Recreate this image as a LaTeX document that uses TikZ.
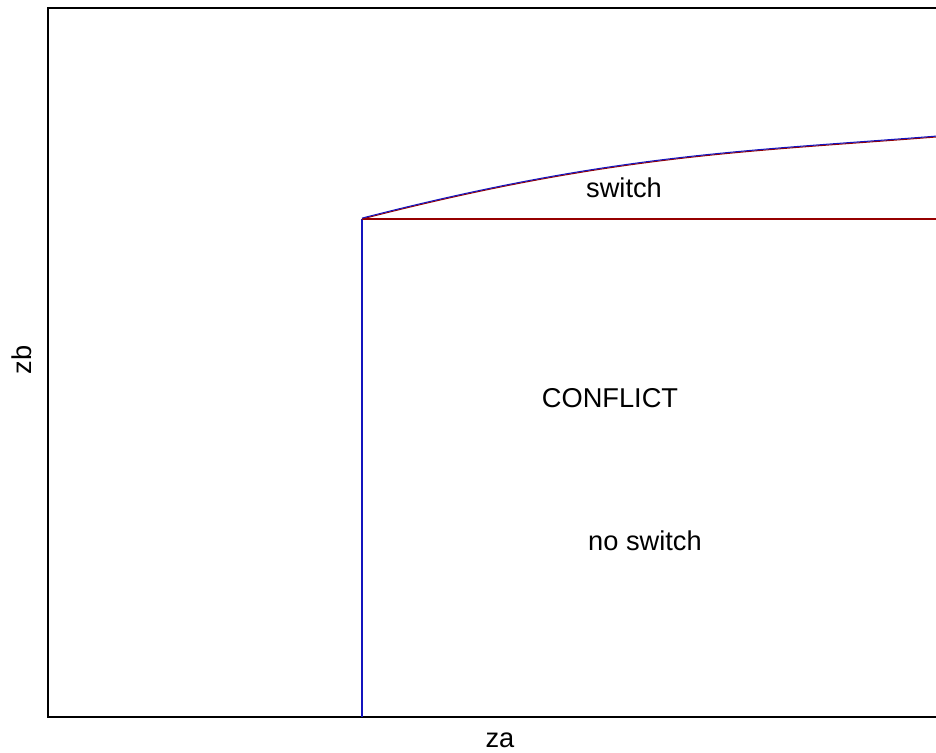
\documentclass[tikz,border=0pt]{standalone}
\usepackage{fontspec}
\setmainfont{Liberation Sans}
\definecolor{lineblue}{RGB}{20,20,190}
\definecolor{linered}{RGB}{150,0,0}
\begin{document}
\begin{tikzpicture}[x=0.02cm,y=-0.02cm]
    \tikzstyle{every node}=[font=\fontsize{15.5}{18}\selectfont]
    \tikzstyle{frame}=[line width=1.1pt,black]
    \tikzstyle{redline}=[line width=0.6pt,linered]
    \tikzstyle{blueline}=[line width=0.6pt,lineblue]
    \useasboundingbox (0,0) rectangle (936,753);

    % Axes frame (open to the right)
    \draw [frame] (936,8) -- (48,8) -- (48,717) -- (936,717);

    % Corner points
    \coordinate (kink) at (362,219);
    \coordinate (base) at (362,717);
    \coordinate (right) at (936,219);
    \coordinate (top) at (936,137);

    % Boundaries
    \draw [blueline] (base) -- (kink);
    \draw [redline] (kink) -- (right);
    \draw [redline] (kink) .. controls (612,154.75) and (745,152) .. (top);
    \draw [blueline] ([yshift=0.5pt]kink) .. controls ([yshift=0.5pt]612,154.75) and ([yshift=0.5pt]745,152) .. ([yshift=0.5pt]top);

    % Region labels
    \node (switch) at (624,188) {switch};
    \node (conflict) at (610,398) {CONFLICT};
    \node (noswitch) at (645,541) {no switch};

    % Axis labels
    \node (za) at (500,740) {za};
    \node [rotate=90] (zb) at (22,360) {zb};

\end{tikzpicture}
\end{document}
